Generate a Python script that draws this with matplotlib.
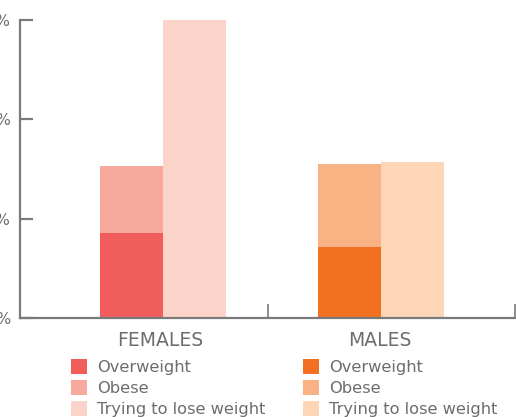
import matplotlib
matplotlib.use("Agg")
import matplotlib.pyplot as plt
from matplotlib.patches import Patch

groups = ["FEMALES", "MALES"]
series = ["Overweight", "Obese", "Trying to lose weight"]
overweight = [17.1, 14.3]
obese = [13.5, 16.7]
trying = [60.0, 31.4]
yticks = [0, 20, 40, 60]
ytick_labels = ["0%", "20%", "40%", "60%"]

female_colors = ["#F15D5B", "#F8A99D", "#FAD3C9"]
male_colors = ["#F37023", "#F8B283", "#FDD5B7"]

W, H = 516, 417
fig = plt.figure(figsize=(W / 100, H / 100), dpi=100)
ax = fig.add_axes([20 / W, (H - 318) / H, 495 / W, 298 / H])

font = "DejaVu Sans"
gray = "#6d6d6d"
bw = 0.255
stack_left = [0.323, 1.204]
trying_left = [0.578, 1.459]
group_colors = [female_colors, male_colors]
for i in range(len(groups)):
    c = group_colors[i]
    ax.bar(stack_left[i], overweight[i], width=bw, align="edge", color=c[0], lw=0)
    ax.bar(stack_left[i], obese[i], bottom=overweight[i], width=bw, align="edge", color=c[1], lw=0)
    ax.bar(trying_left[i], trying[i], width=bw, align="edge", color=c[2], lw=0)

ax.set_xlim(0, 2)
ax.set_ylim(0, 60)
for s in ["top", "right"]:
    ax.spines[s].set_visible(False)
for s in ["left", "bottom"]:
    ax.spines[s].set_color("#7a7a7a")
    ax.spines[s].set_linewidth(1.6)

ax.set_yticks(yticks)
ax.set_yticklabels(ytick_labels, fontsize=11, color=gray, family=font)
ax.tick_params(axis="y", direction="in", length=9, width=1.6, color="#7a7a7a", pad=6.5)
ax.set_xticks([1, 2])
ax.set_xticklabels([])
ax.tick_params(axis="x", direction="in", length=10, width=1.2, color="#7a7a7a")

label_x = [0.566, 1.455]
for i, g in enumerate(groups):
    ax.text(label_x[i], -4.6, g, ha="center", va="center", fontsize=13.5, color=gray,
            family=font, transform=ax.transData, clip_on=False)

for i, colors in enumerate(group_colors):
    handles = [Patch(facecolor=colors[k], edgecolor="none", label=series[k]) for k in range(3)]
    leg = fig.legend(handles=handles, loc="upper left",
                     bbox_to_anchor=([71 / W, 303 / W][i], (H - 359) / H),
                     frameon=False, fontsize=11.7, handlelength=1.0, handleheight=1.0,
                     handletextpad=0.6, labelspacing=0.32, borderpad=0, borderaxespad=0)
    for t in leg.get_texts():
        t.set_color(gray)
        t.set_family(font)

fig.savefig("out.png", dpi=100)
